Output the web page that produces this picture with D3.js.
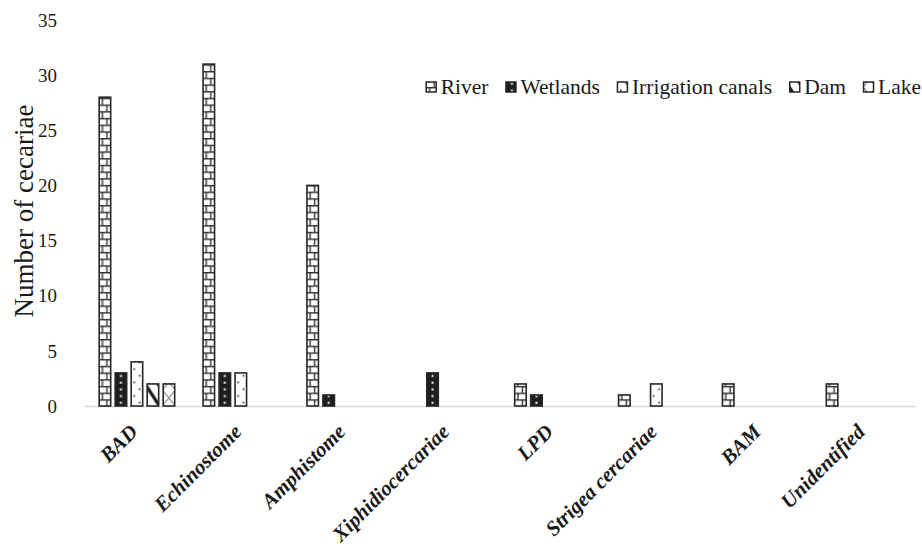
<!DOCTYPE html>
<html>
<head>
<meta charset="utf-8">
<script src="https://cdn.jsdelivr.net/npm/d3@7"></script>
<style>
  body { margin: 0; background: #fff; }
  text { font-family: "Liberation Serif", "Times New Roman", serif; fill: #1a1a1a; }
</style>
</head>
<body>
<script>
let categories = ['BAD', 'Echinostome', 'Amphistome', 'Xiphidiocercariae', 'LPD', 'Strigea cercariae', 'BAM', 'Unidentified']
let series = ['River', 'Wetlands', 'Irrigation canals', 'Dam', 'Lake']
let river = [28, 31, 20, 0, 2, 1, 2, 2]
let wetlands = [3, 3, 1, 3, 1, 0, 0, 0]
let irrigation = [4, 3, 0, 0, 0, 2, 0, 0]
let dam = [2, 0, 0, 0, 0, 0, 0, 0]
let lake = [2, 0, 0, 0, 0, 0, 0, 0]
let yTicks = [0, 5, 10, 15, 20, 25, 30, 35]

let values = [river, wetlands, irrigation, dam, lake]
let width = 922
let height = 551
let plotLeft = 85, plotRight = 916, plotTop = 20, plotBottom = 406
let ink = '#262626'

let svg = d3.select('body').append('svg')
    .attr('width', width)
    .attr('height', height)

let x0 = d3.scaleBand().domain(categories).range([plotLeft, plotRight])
let x1 = d3.scaleBand().domain(series).range([0, 77]).paddingInner(3 / 16)
let y = d3.scaleLinear().domain([0, 35]).range([plotBottom, plotTop])
let off = (x0.bandwidth() - 77) / 2

// fill patterns, one per series
let defs = svg.append('defs')
function pattern(id, w, h) {
    return defs.append('pattern').attr('id', id)
        .attr('patternUnits', 'userSpaceOnUse')
        .attr('width', w).attr('height', h)
}
let p0 = pattern('p-river', 13, 13.4)
p0.append('rect').attr('width', 13).attr('height', 13.4).attr('fill', '#fff')
p0.append('path').attr('stroke', '#333').attr('stroke-width', 1.4)
    .attr('d', 'M0,0.7H13M0,7.4H13M4,0.7V7.4M8.5,7.4V13.4')
let p1 = pattern('p-wet', 13, 6.7)
p1.append('rect').attr('width', 13).attr('height', 6.7).attr('fill', '#1f1f1f')
p1.append('rect').attr('x', 5.5).attr('y', 2.5).attr('width', 2).attr('height', 2).attr('fill', '#fff')
let p2 = pattern('p-irr', 13, 13.4)
p2.append('rect').attr('width', 13).attr('height', 13.4).attr('fill', '#fff')
p2.append('rect').attr('x', 3).attr('y', 2.5).attr('width', 1.6).attr('height', 1.6).attr('fill', '#222')
p2.append('rect').attr('x', 8.5).attr('y', 9.2).attr('width', 1.6).attr('height', 1.6).attr('fill', '#222')
let p3 = pattern('p-dam', 13, 20)
p3.append('rect').attr('width', 13).attr('height', 20).attr('fill', '#fff')
p3.append('path').attr('stroke', '#1a1a1a').attr('stroke-width', 3.2)
    .attr('d', 'M-1,-1.5L14,21.5M-1,18.5L1.5,22.3M11.5,-2.3L14,1.5')
let p4 = pattern('p-lake', 13, 16)
p4.append('rect').attr('width', 13).attr('height', 16).attr('fill', '#fff')
p4.append('path').attr('stroke', '#555').attr('stroke-width', 1)
    .attr('d', 'M0,0L13,16M13,0L0,16')
let fills = ['url(#p-river)', 'url(#p-wet)', 'url(#p-irr)', 'url(#p-dam)', 'url(#p-lake)']

// x axis line
svg.append('line')
    .attr('x1', plotLeft).attr('x2', plotRight)
    .attr('y1', plotBottom + 0.5).attr('y2', plotBottom + 0.5)
    .attr('stroke', '#d9d9d9').attr('stroke-width', 1.3)

// bars
let bars = []
categories.forEach((c, i) => {
    series.forEach((s, k) => {
        let v = values[k][i]
        if (v > 0) bars.push({ c: c, s: s, k: k, v: v })
    })
})
let barG = svg.selectAll('g.bar')
    .data(bars)
    .enter()
    .append('g')
    .attr('class', 'bar')
    .attr('transform', d => `translate(${x0(d.c) + off + x1(d.s)},${y(0)})`)
barG.append('rect')
    .attr('x', 0.75)
    .attr('y', d => y(d.v) - y(0))
    .attr('width', x1.bandwidth() - 1.5)
    .attr('height', d => y(0) - y(d.v))
    .attr('fill', d => fills[d.k])
    .attr('stroke', ink)
    .attr('stroke-width', 1.6)

// y tick labels
svg.selectAll('text.ytick')
    .data(yTicks)
    .enter()
    .append('text')
    .attr('class', 'ytick')
    .attr('x', 57)
    .attr('y', d => y(d))
    .attr('dy', '0.35em')
    .attr('text-anchor', 'end')
    .style('font-size', '19px')
    .text(d => d)

// y axis title
svg.append('text')
    .attr('transform', `translate(33,211) rotate(-90)`)
    .attr('text-anchor', 'middle')
    .style('font-size', '27px')
    .text('Number of cecariae')

// category labels
svg.selectAll('text.xlab')
    .data(categories)
    .enter()
    .append('text')
    .attr('class', 'xlab')
    .attr('transform', d => `translate(${x0(d) + x0.bandwidth() / 2 + 2},${plotBottom + 27}) rotate(-45)`)
    .attr('text-anchor', 'end')
    .style('font-size', '21px')
    .style('font-weight', 'bold')
    .style('font-style', 'italic')
    .text(d => d)

// legend, laid out left to right then pushed against the right edge
let lx = 0
let legend = svg.append('g')
series.forEach((s, k) => {
    let g = legend.append('g').attr('transform', `translate(${lx},0)`)
    g.append('rect')
        .attr('x', 0.5).attr('y', -5)
        .attr('width', 10).attr('height', 10)
        .attr('fill', fills[k])
        .attr('stroke', ink).attr('stroke-width', 1.5)
    let t = g.append('text')
        .attr('x', 15).attr('y', 7)
        .style('font-size', '21.5px')
        .text(s)
    lx += 15 + t.node().getComputedTextLength()
    if (k < series.length - 1) lx += 17
})
legend.attr('transform', `translate(${921 - lx},87)`)
</script>
</body>
</html>
